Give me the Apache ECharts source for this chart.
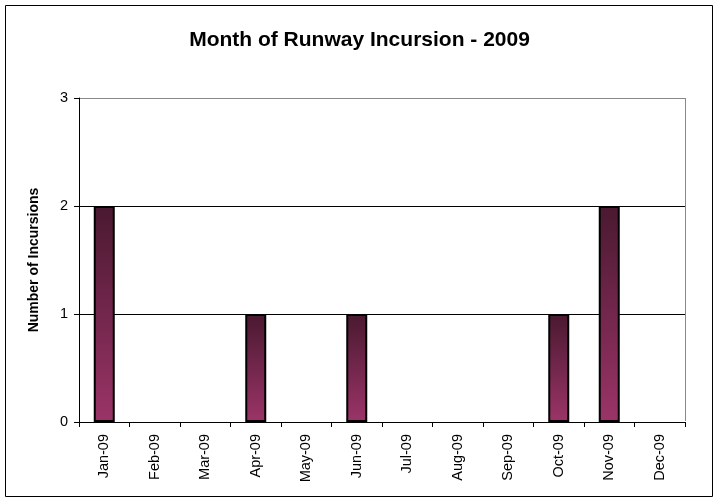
<!DOCTYPE html>
<html>
<head>
<meta charset="utf-8">
<script src="https://cdn.jsdelivr.net/npm/echarts@6/dist/echarts.min.js"></script>
<style>
  html, body { margin: 0; padding: 0; background: #fff; }
  #chart { width: 719px; height: 502px; }
</style>
</head>
<body>
<div id="chart"></div>
<script>
// Monthly runway incursion counts for 2009
const months = ['Jan-09', 'Feb-09', 'Mar-09', 'Apr-09', 'May-09', 'Jun-09',
                'Jul-09', 'Aug-09', 'Sep-09', 'Oct-09', 'Nov-09', 'Dec-09'];
const incursions = [2, 0, 0, 1, 0, 1, 0, 0, 0, 1, 2, 0];
const yTicks = [0, 1, 2, 3];

const chart = echarts.init(document.getElementById('chart'));
const font = 'Liberation Sans, Arial, sans-serif';

// empty months get no outline so nothing shows at zero
const barData = incursions.map(v => ({
  value: v,
  itemStyle: v === 0 ? { borderWidth: 0 } : {}
}));

chart.setOption({
  animation: false,
  title: {
    text: 'Month of Runway Incursion - 2009',
    left: 'center',
    top: 25,
    textStyle: { fontFamily: font, fontSize: 21, fontWeight: 'bold', color: '#000' }
  },
  graphic: [
    {
      type: 'rect',
      shape: { x: 5.5, y: 5.5, width: 707, height: 491 },
      style: { fill: 'none', stroke: '#000', lineWidth: 1 },
      silent: true
    },
    {
      // right edge of the plot frame
      type: 'line',
      shape: { x1: 685.5, y1: 98, x2: 685.5, y2: 421 },
      style: { stroke: '#888', lineWidth: 1 },
      silent: true
    }
  ],
  grid: { left: 79, right: 34, top: 98, bottom: 80 },
  xAxis: {
    type: 'category',
    data: months,
    boundaryGap: true,
    axisLine: { lineStyle: { color: '#000', width: 1 } },
    axisTick: { show: true, alignWithLabel: false, length: 5, lineStyle: { color: '#000' } },
    axisLabel: { rotate: 90, interval: 0, margin: 12, fontFamily: font, fontSize: 14.5, color: '#000' },
    splitLine: { show: false }
  },
  yAxis: {
    type: 'value',
    min: yTicks[0],
    max: yTicks[yTicks.length - 1],
    interval: 1,
    name: 'Number of Incursions',
    nameLocation: 'middle',
    nameGap: 38,
    nameTextStyle: { fontFamily: font, fontSize: 14, fontWeight: 'bold', color: '#000' },
    axisLine: { show: true, lineStyle: { color: '#000', width: 1 } },
    axisTick: { show: true, length: 5, lineStyle: { color: '#000' } },
    axisLabel: { margin: 11, fontFamily: font, fontSize: 14.5, color: '#000' },
    splitLine: { show: true, lineStyle: { color: ['#000', '#000', '#000', '#888'], width: 1 } }
  },
  series: [{
    type: 'bar',
    data: barData,
    barWidth: 21,
    itemStyle: {
      borderColor: '#000',
      borderWidth: 2,
      color: new echarts.graphic.LinearGradient(0, 0, 0, 1, [
        { offset: 0, color: '#4a1930' },
        { offset: 1, color: '#9b3468' }
      ])
    }
  }]
});
</script>
</body>
</html>
